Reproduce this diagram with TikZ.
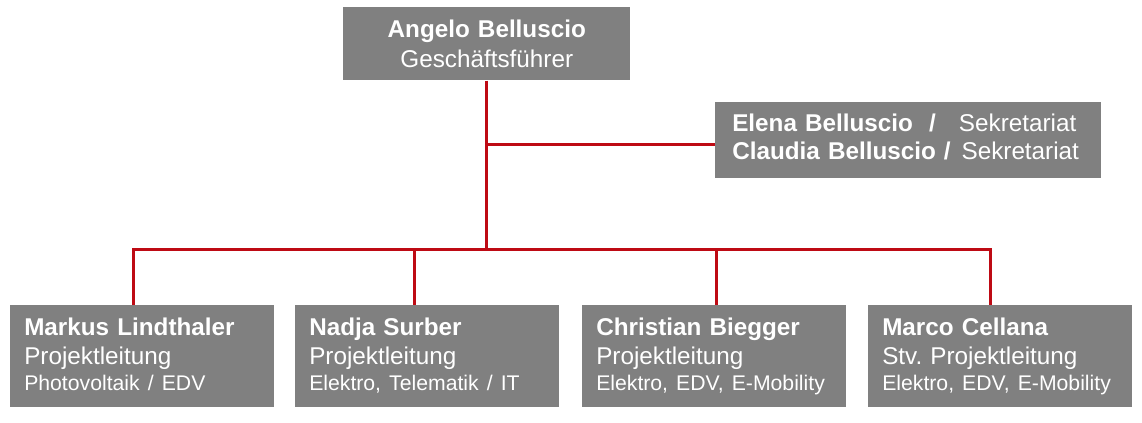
\documentclass[tikz,border=0pt]{standalone}
\usepackage{fontspec}
\setmainfont{Liberation Sans}
\definecolor{orggray}{HTML}{808080}
\definecolor{orgred}{HTML}{BE0A14}
\newcommand{\sekline}[2]{\makebox[170pt][l]{\bfseries #1}#2}
\frenchspacing

\begin{document}
\begin{tikzpicture}[x=0.75pt,y=-0.75pt,
  box/.style={fill=orggray,text=white,anchor=north west,inner ysep=0pt},
  staff/.style={box,align=left,text width=177pt,inner xsep=10.5pt,
    text height=22.5pt,text depth=54pt,font=\fontsize{18.2}{21.75}\selectfont},
  link/.style={draw=orgred,line width=2.25pt}]
\useasboundingbox (0,0) rectangle (1142,422);
\node[box,align=center,text width=215.25pt,inner xsep=0pt,text height=22.5pt,text depth=32.25pt,
  font=\fontsize{18.2}{22.5}\selectfont] (ceo) at (343,7) {\textbf{Angelo Belluscio}\\Geschäftsführer};
\node[box,align=left,text width=264pt,inner xsep=12.75pt,text height=22.125pt,text depth=34.875pt,
  font=\fontsize{18.2}{20.7}\selectfont] (sek) at (715,102)
  {\sekline{Elena Belluscio~~/}{Sekretariat}\\\sekline{Claudia Belluscio /}{\hspace{2pt}Sekretariat}};
\node[staff] (markus) at (10,305) {\textbf{Markus Lindthaler}\\Projektleitung\\[-2.25pt]{\fontsize{15.9}{21.75}\selectfont Photovoltaik / EDV}};
\node[staff] (nadja) at (295,305) {\textbf{Nadja Surber}\\Projektleitung\\[-2.25pt]{\fontsize{15.9}{21.75}\selectfont Elektro, Telematik / IT}};
\node[staff] (christian) at (582,305) {\textbf{Christian Biegger}\\Projektleitung\\[-2.25pt]{\fontsize{15.9}{21.75}\selectfont Elektro, EDV, E-Mobility}};
\node[staff] (marco) at (868,305) {\textbf{Marco Cellana}\\Stv. Projektleitung\\[-2.25pt]{\fontsize{15.9}{21.75}\selectfont Elektro, EDV, E-Mobility}};
\coordinate (bus) at (486,249);
\coordinate (sekjoin) at ([yshift=-3pt]sek.west);
\coordinate (drop1) at (133,249);
\coordinate (drop2) at (414,249);
\coordinate (drop3) at (716.5,249);
\coordinate (drop4) at (990.5,249);
\draw[link] (ceo.south) -- (ceo.south |- bus);
\draw[link] (ceo.south |- sekjoin) -- (sekjoin);
\draw[link] (markus.north -| drop1) -- (drop1) -- (drop4) -- (marco.north -| drop4);
\draw[link] (drop2) -- (nadja.north -| drop2);
\draw[link] (drop3) -- (christian.north -| drop3);
\end{tikzpicture}
\end{document}
